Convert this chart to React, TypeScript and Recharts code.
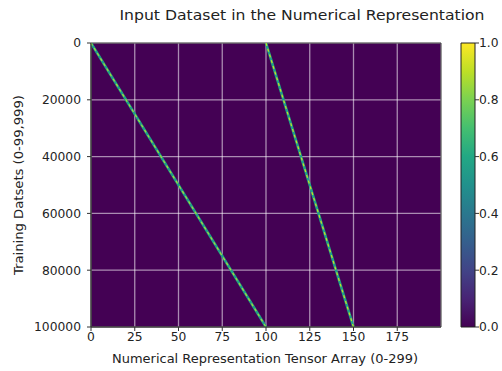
import React from 'react';
import {
  ComposedChart,
  Line,
  XAxis,
  YAxis,
  CartesianGrid,
  ReferenceArea,
  BarChart,
  Bar,
  Customized,
} from 'recharts';

const xTicks = [0, 25, 50, 75, 100, 125, 150, 175];
const yTicks = [0, 20000, 40000, 60000, 80000, 100000];
const diagonalA = [
  { col: 0, row: 0 },
  { col: 100, row: 100000 },
];
const diagonalB = [
  { col: 100, row: 0 },
  { col: 150, row: 100000 },
];
const colorbarTicks = [0, 0.2, 0.4, 0.6, 0.8, 1.0];
const colorbarValue = [{ name: 'cb', v: 1 }];
const viridisStops = [
  '#440154', '#482475', '#414487', '#355f8d', '#2a788e', '#21918c',
  '#22a884', '#44bf70', '#7ad151', '#bddf26', '#fde725',
];

const FONT = '"DejaVu Sans", sans-serif';
const tickStyle = { fill: '#222', fontSize: 12.3, fontFamily: FONT };

const Texts = () => (
  <g fontFamily={FONT} fill="#222">
    <text x={302} y={19.5} textAnchor="middle" fontSize={14} textLength={365} lengthAdjust="spacingAndGlyphs">
      Input Dataset in the Numerical Representation
    </text>
    <text x={265} y={363} textAnchor="middle" fontSize={12.5} textLength={306} lengthAdjust="spacingAndGlyphs">
      Numerical Representation Tensor Array (0-299)
    </text>
    <text
      x={23}
      y={185}
      textAnchor="middle"
      fontSize={12.5}
      textLength={180}
      lengthAdjust="spacingAndGlyphs"
      transform="rotate(-90 23 185)"
    >
      Training Datsets (0-99,999)
    </text>
  </g>
);

export default function App() {
  return (
    <div style={{ position: 'absolute', left: 0, top: 0, width: 502, height: 371, background: '#fff' }}>
      <div style={{ position: 'absolute', left: 0, top: 0 }}>
        <ComposedChart
          width={502}
          height={371}
          margin={{ top: 43, right: 61, bottom: 0, left: 0 }}
        >
          <CartesianGrid
            fill="#440154"
            fillOpacity={1}
            stroke="#ffffff"
            strokeOpacity={0.55}
            strokeWidth={1.3}
          />
          <XAxis
            dataKey="col"
            type="number"
            domain={[0, 200]}
            ticks={xTicks}
            allowDataOverflow
            height={44}
            tickSize={4}
            tickMargin={1}
            tick={tickStyle}
            axisLine={{ stroke: '#333' }}
            tickLine={{ stroke: '#333' }}
          />
          <YAxis
            type="number"
            domain={[0, 100000]}
            ticks={yTicks}
            reversed
            allowDataOverflow
            width={91}
            tickSize={4}
            tickMargin={6}
            tick={tickStyle}
            axisLine={{ stroke: '#333' }}
            tickLine={{ stroke: '#333' }}
          />
          <Line data={diagonalA} dataKey="row" stroke="#1fa187" strokeWidth={2.6} dot={false} isAnimationActive={false} />
          <Line data={diagonalA} dataKey="row" stroke="#a5db36" strokeWidth={1.2} strokeDasharray="3 3" dot={false} isAnimationActive={false} />
          <Line data={diagonalB} dataKey="row" stroke="#1fa187" strokeWidth={2.6} dot={false} isAnimationActive={false} />
          <Line data={diagonalB} dataKey="row" stroke="#c8e020" strokeWidth={1.2} strokeDasharray="3 3" dot={false} isAnimationActive={false} />
          <ReferenceArea x1={0} x2={200} y1={0} y2={100000} fill="none" stroke="#333" strokeWidth={1} ifOverflow="visible" />
          <Customized component={Texts} />
        </ComposedChart>
      </div>
      <div style={{ position: 'absolute', left: 450, top: 0 }}>
        <BarChart
          width={52}
          height={371}
          data={colorbarValue}
          margin={{ top: 43, right: 0, bottom: 44, left: 11 }}
          barCategoryGap={0}
        >
          <defs>
            <linearGradient id="viridisCb" x1="0" y1="1" x2="0" y2="0">
              {viridisStops.map((c, i) => (
                <stop key={i} offset={i / (viridisStops.length - 1)} stopColor={c} />
              ))}
            </linearGradient>
          </defs>
          <XAxis dataKey="name" hide />
          <YAxis
            orientation="right"
            type="number"
            domain={[0, 1]}
            ticks={colorbarTicks}
            width={27}
            tickSize={4}
            tickMargin={0}
            tick={tickStyle}
            tickFormatter={(v: number) => v.toFixed(1)}
            axisLine={false}
            tickLine={{ stroke: '#333' }}
          />
          <Bar dataKey="v" fill="url(#viridisCb)" stroke="#222" strokeWidth={1} isAnimationActive={false} />
        </BarChart>
      </div>
    </div>
  );
}
